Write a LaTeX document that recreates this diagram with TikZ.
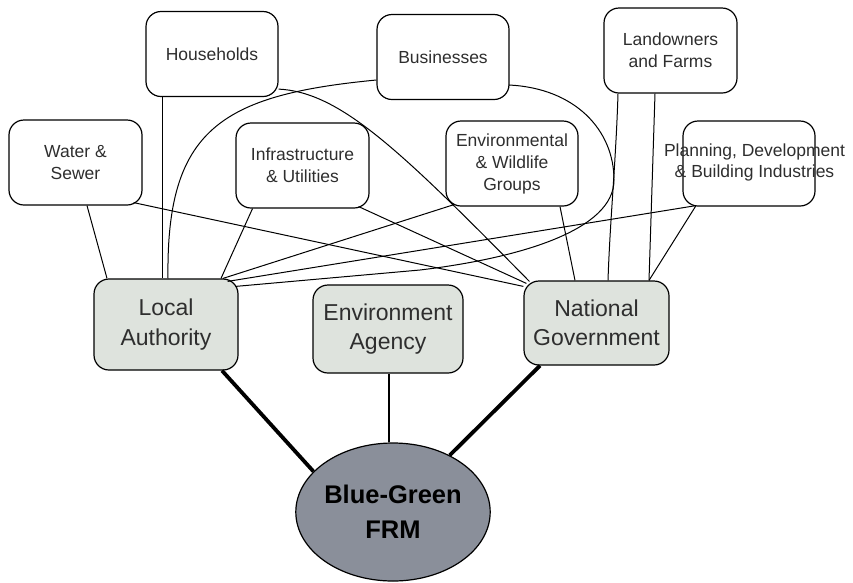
\documentclass[tikz,border=0pt]{standalone}
\usepackage{fontspec}
\setmainfont{Liberation Sans}
\usetikzlibrary{shapes.geometric}
\definecolor{agencyfill}{HTML}{DEE3DD}
\definecolor{frmfill}{HTML}{8A8F9A}
\definecolor{txt}{HTML}{2E2E2E}
\begin{document}
\begin{tikzpicture}[x=1pt,y=-1pt,
  topbox/.style={draw=black, line width=1.2pt, rounded corners=15pt,
    minimum width=132pt, minimum height=85pt, inner sep=0pt, align=center,
    font=\fontsize{17.5}{22}\selectfont, text=txt},
  toptext/.style={inner sep=0pt, align=center, font=\fontsize{17.5}{21}\selectfont, text=txt},
  agency/.style={draw=black, line width=1.2pt, rounded corners=15pt, fill=agencyfill,
    inner sep=0pt, align=center, font=\fontsize{23}{29.5}\selectfont, text=txt},
  hub/.style={ellipse, draw=black, line width=1.2pt, fill=frmfill, inner sep=0pt,
    minimum width=174pt, minimum height=138pt, align=center,
    font=\fontsize{25.5}{35}\selectfont\bfseries},
  conn/.style={line width=1pt},
  strong/.style={line width=3.8pt},
  medium/.style={line width=2.8pt}
]
\useasboundingbox (0,0) rectangle (853,582);

% stakeholder boxes
\node[topbox] (hh)   at (212,54)    {Households};
\node[topbox] (bus)  at (443,57)    {Businesses};
\node[topbox, minimum width=133pt] (land) at (670.5,50.5) {Landowners\\and Farms};
\node[topbox, minimum width=133pt] (ws)   at (75.5,162.5) {Water \&\\Sewer};
\node[topbox, minimum width=133pt] (inf)  at (302.5,165.5) {Infrastructure\\\& Utilities};
\node[topbox] (env)  at (512,163.5) {Environmental\\\& Wildlife\\Groups};
\node[topbox] (plan) at (749,163.5) {};
\node[toptext] (plantext) at (754.5,162.5) {Planning, Development\\\& Building Industries};

% agencies
\node[agency, minimum width=144pt, minimum height=91pt] (la) at (166,324.5) {Local\\Authority};
\node[agency, minimum width=150pt, minimum height=88pt] (ea) at (388,329) {Environment\\Agency};
\node[agency, minimum width=145pt, minimum height=84pt] (ng) at (596.5,323) {National\\Government};

% hub
\node[hub] (frm) at (393,512) {Blue-Green\\FRM};

% connectors to Local Authority
\draw[conn] ([xshift=11.5pt]ws.south) -- ([xshift=-59pt]la.north);
\draw[conn] ([xshift=-50pt]hh.south) -- ([xshift=-4pt]la.north);
\draw[conn] ([yshift=-23pt]bus.west) .. controls (220,95) and (166,130) .. ([xshift=2pt]la.north);
\draw[conn] ([xshift=-50pt]inf.south) -- ([xshift=55pt]la.north);
\draw[conn] ([xshift=-58pt,yshift=2pt]env.south) -- ([xshift=57pt]la.north);
\draw[conn] ([xshift=-53pt,yshift=1pt]plan.south) -- ([xshift=-11pt,yshift=-3pt]la.north east);
\draw[conn] ([xshift=-1pt,yshift=-28pt]bus.east) .. controls (575,88) and (614,130) .. (614,180)
  .. controls (614,230) and (520,258) .. (420,270) -- ([xshift=-3pt,yshift=-8pt]la.north east);

% connectors to National Government
\draw[conn] ([xshift=-9pt,yshift=3pt]ws.south east) -- ([yshift=-6pt]ng.north west);
\draw[conn] ([xshift=-11pt,yshift=2pt]inf.south east) -- ([xshift=3pt,yshift=-3pt]ng.north west);
\draw[conn] ([yshift=8pt]hh.south east) .. controls (340,92) and (400,150) .. ([xshift=6pt,yshift=-1pt]ng.north west);
\draw[conn] ([xshift=48pt]env.south) -- ([xshift=-21.5pt]ng.north);
\draw[conn] ([xshift=-52.5pt]land.south) .. controls (616,160) and (610,220) .. ([xshift=11.5pt]ng.north);
\draw[conn] ([xshift=-15.5pt]land.south) -- ([xshift=52.5pt]ng.north);
\draw[conn] ([xshift=-53pt,yshift=1pt]plan.south) -- ([xshift=52.5pt]ng.north);

% links to the hub
\draw[strong] ([xshift=56pt]la.south) -- (frm.153);
\draw[strong] ([xshift=-56.5pt]ng.south) -- (frm.45);
\draw[medium] ([xshift=1pt]ea.south) -- ([xshift=-4pt]frm.north);
\end{tikzpicture}
\end{document}
